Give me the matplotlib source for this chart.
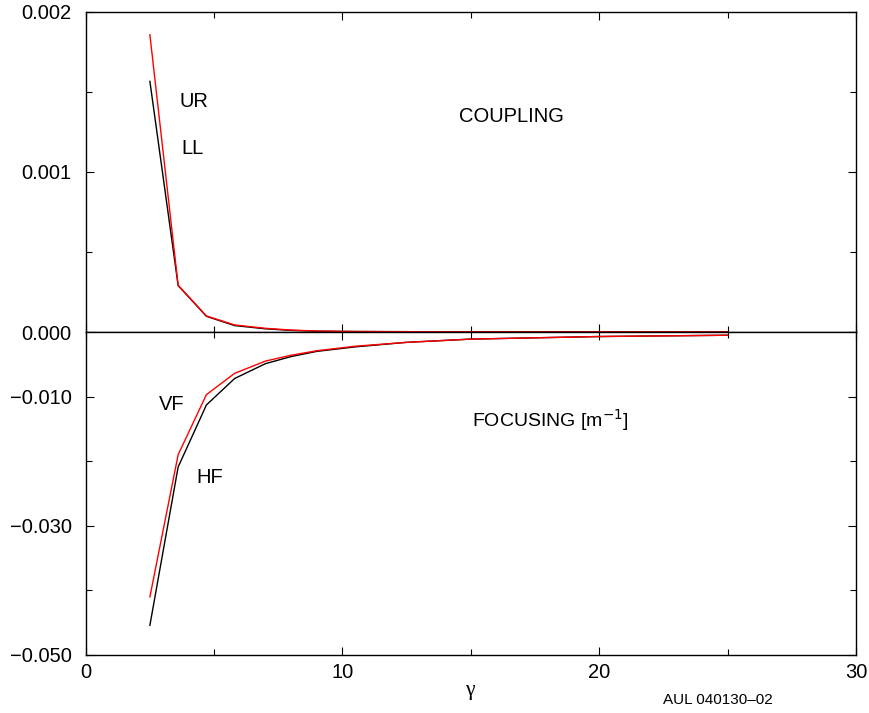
import matplotlib
matplotlib.use("Agg")
import matplotlib.pyplot as plt
from matplotlib.ticker import FixedLocator, FuncFormatter

plt.rcParams['font.family'] = ['Liberation Sans', 'DejaVu Sans']

# data
gamma = [2.5, 3.6, 4.7, 5.8, 7.0, 8.0, 9.0, 10.5, 12.5, 15.0, 20.0, 25.0]
coupling_ur = [0.001855, 0.000292, 0.000100, 0.000044, 0.000023, 0.000012,
               0.000006, 0.000003, 0.000002, 0.000001, 0.0000005, 0.0000003]
coupling_ll = [0.001564, 0.000290, 0.000098, 0.000040, 0.000020, 0.000010,
               0.000005, 0.000003, 0.000002, 0.000001, 0.0000005, 0.0000003]
focus_vf = [-0.0410, -0.0190, -0.0097, -0.0064, -0.0045, -0.0036, -0.0029,
            -0.0022, -0.0016, -0.0011, -0.0007, -0.0005]
focus_hf = [-0.0454, -0.0209, -0.0113, -0.0072, -0.0049, -0.0038, -0.0030,
            -0.0023, -0.0016, -0.0011, -0.0007, -0.0005]

top_major = [0.0, 0.001, 0.002]
top_minor = [0.0005, 0.0015]
bot_major = [-0.050, -0.030, -0.010]
bot_minor = [-0.040, -0.020]
x_major = [0, 10, 20, 30]
x_minor = [5, 15, 25]

fig = plt.figure(figsize=(8.7, 7.13), dpi=100)
L, R = 0.0985, 0.984
mid = 1 - 332 / 713
top = 1 - 11.5 / 713
bot = 1 - 655 / 713
ax1 = fig.add_axes([L, mid, R - L, top - mid])
ax2 = fig.add_axes([L, bot, R - L, mid - bot], sharex=ax1)

ax1.plot(gamma, coupling_ll, color='black', lw=1.0)
ax1.plot(gamma, coupling_ur, color='red', lw=1.0)
ax2.plot(gamma, focus_hf, color='black', lw=1.0)
ax2.plot(gamma, focus_vf, color='red', lw=1.0)

ax1.set_xlim(0, 30)
ax1.set_ylim(0, 0.002)
ax2.set_ylim(-0.050, 0)

fmt = FuncFormatter(lambda v, p: ('%.3f' % v).replace('-', '\u2212'))
ax1.yaxis.set_major_locator(FixedLocator(top_major))
ax1.yaxis.set_minor_locator(FixedLocator(top_minor))
ax1.yaxis.set_major_formatter(fmt)
ax2.yaxis.set_major_locator(FixedLocator(bot_major))
ax2.yaxis.set_minor_locator(FixedLocator(bot_minor))
ax2.yaxis.set_major_formatter(fmt)
for ax in (ax1, ax2):
    ax.xaxis.set_major_locator(FixedLocator(x_major))
    ax.xaxis.set_minor_locator(FixedLocator(x_minor))
    ax.tick_params(which='both', direction='in', top=True, right=True,
                   labelsize=14.5, width=0.8)
    ax.tick_params(axis='y', pad=10)
    ax.tick_params(axis='x', pad=6)
    ax.tick_params(which='major', length=6)
    ax.tick_params(which='minor', length=4)
    for s in ax.spines.values():
        s.set_linewidth(1.0)
ax1.tick_params(axis='x', labelbottom=False)

fs = 14.5
ax1.text(3.67, 0.00144, 'UR', fontsize=fs, va='center')
ax1.text(3.71, 0.001146, 'LL', fontsize=fs, va='center')
ax1.text(14.54, 0.001346, 'COUPLING', fontsize=fs, va='center')
ax2.text(2.86, -0.0113, 'VF', fontsize=fs, va='center')
ax2.text(4.3, -0.02245, 'HF', fontsize=fs, va='center')
ax2.text(15.05, -0.0136, 'FOCUSING [m$^{-1}$]', fontsize=14, va='center')

fig.text(470 / 870, 1 - 690 / 713, '\u03b3', fontsize=15.5, ha='center', va='center',
         family=['Liberation Serif', 'DejaVu Serif'])
fig.text(718 / 870, 1 - 700 / 713, 'AUL 040130\u201302', fontsize=11, ha='center', va='center')

fig.savefig('out.png', dpi=100)
